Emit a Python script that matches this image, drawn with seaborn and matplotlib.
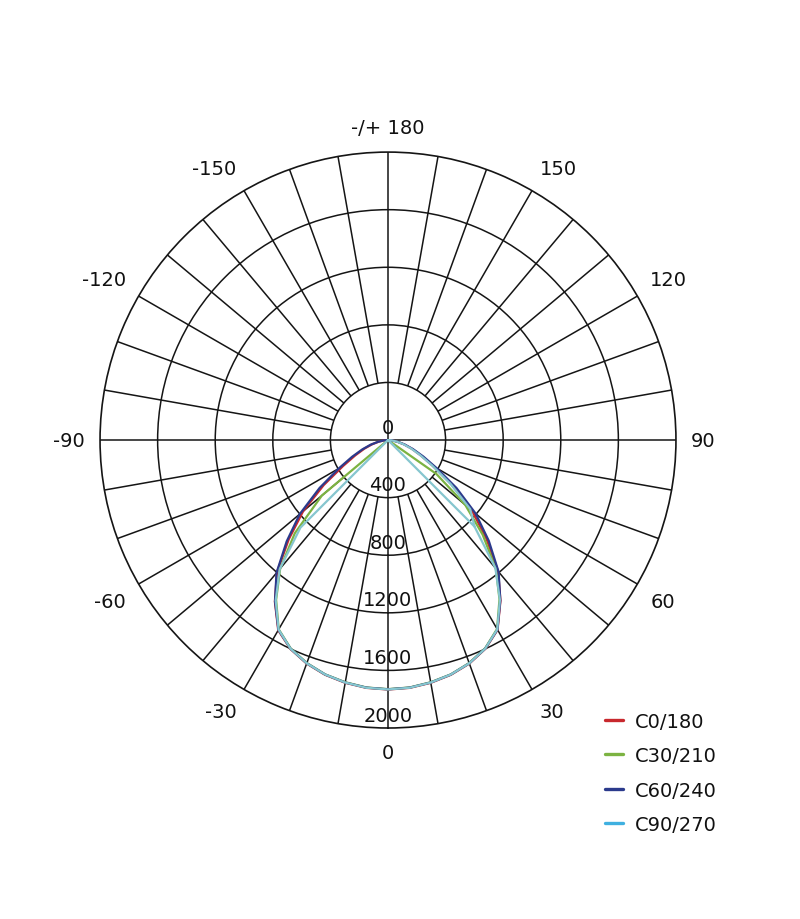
import numpy as np
import pandas as pd
import matplotlib
matplotlib.use("Agg")
import matplotlib.pyplot as plt
import seaborn as sns

# gamma angles (deg) for each C-plane
gamma = list(range(-90, 95, 5))

c0_cd = [0, 28, 65, 115, 175, 250, 360, 545, 770, 975, 1200, 1370, 1525, 1602, 1652, 1688, 1712, 1728,
         1733,
         1728, 1712, 1688, 1652, 1600, 1522, 1362, 1190, 965, 760, 540, 360, 250, 175, 115, 65, 28, 0]
c30_cd = [0, 0, 0, 0, 0, 0, 0, 0, 600, 915, 1165, 1355, 1518, 1598, 1648, 1685, 1708, 1725,
          1730,
          1725, 1708, 1685, 1648, 1596, 1515, 1350, 1165, 930, 700, 410, 0, 0, 0, 0, 0, 0, 0]
c60_cd = [0, 30, 70, 125, 190, 275, 395, 580, 800, 995, 1205, 1368, 1522, 1600, 1650, 1686, 1710, 1726,
          1731,
          1726, 1710, 1686, 1650, 1598, 1520, 1360, 1195, 990, 795, 580, 390, 270, 185, 120, 68, 30, 0]
c90_cd = [0, 0, 0, 0, 0, 0, 0, 0, 0, 860, 1170, 1360, 1520, 1600, 1650, 1686, 1710, 1727,
          1732,
          1727, 1710, 1686, 1650, 1598, 1518, 1355, 1160, 850, 745, 530, 355, 245, 170, 110, 62, 26, 0]
# the C90/270 trace closes back to its 45 deg point
c90_gamma = gamma + [45]
c90_cd = c90_cd + [850]

series = ["C0/180", "C30/210", "C60/240", "C90/270"]
colors = ["#c8282d", "#7cb342", "#2b3a8c", "#3fb0e0"]
line_colors = ["#c8282d", "#7cb342", "#2b3a8c", "#86c6cf"]

ring_values = [0, 400, 800, 1200, 1600, 2000]
angle_ticks = [0, 30, 60, 90, 120, 150, 180, -150, -120, -90, -60, -30]
angle_labels = ["0", "30", "60", "90", "120", "150", "-/+ 180", "-150", "-120", "-90", "-60", "-30"]

frames = []
for name, g, v in zip(series, [gamma, gamma, gamma, c90_gamma], [c0_cd, c30_cd, c60_cd, c90_cd]):
    assert len(g) == len(v)
    frames.append(pd.DataFrame({"theta": np.radians(g), "cd": v, "series": name}))
df = pd.concat(frames, ignore_index=True)

sns.set_style("white")
plt.rcParams['font.family'] = ['DejaVu Sans']
txt_col = "#111111"

fig = plt.figure(figsize=(8, 9.2), dpi=100)
ax = fig.add_axes([0.125, 0.2076, 0.72, 0.626], projection="polar")
ax.set_theta_zero_location("S")
ax.set_theta_direction(1)
ax.set_ylim(0, 2000)

grid_col = "#151515"
# rings
ax.set_yticks([400, 800, 1200, 1600])
ax.set_yticklabels([])
ax.yaxis.grid(True, color=grid_col, lw=1.1)
ax.xaxis.grid(False)
ax.set_xticks([])
ax.spines["polar"].set_color(grid_col)
ax.spines["polar"].set_linewidth(1.2)

# spokes every 10 deg, only the main axes cross the centre
spokes = [a for a in range(0, 360, 10) if a % 90 != 0]
ax.vlines(np.radians(spokes), 400, 2000, color=grid_col, lw=1.1, zorder=1)
ax.vlines(np.radians([0, 90, 180, 270]), 0, 2000, color=grid_col, lw=1.1, zorder=1)

sns.lineplot(data=df, x="theta", y="cd", hue="series", hue_order=series,
             palette=dict(zip(series, line_colors)), sort=False, estimator=None,
             lw=1.6, ax=ax, legend=False, zorder=3)
ax.set_xlabel("")
ax.set_ylabel("")

# radial labels
for r in ring_values:
    if r == 0:
        ax.text(np.pi, 90, "0", ha="center", va="center", fontsize=14, color=txt_col, zorder=4)
    else:
        ax.text(0, r - 90, str(r), ha="center", va="center", fontsize=14, color=txt_col, zorder=4)

# angle labels
R = 2000 * (1 + 15 / 288)
for a, lab in zip(angle_ticks, angle_labels):
    t = np.radians(a)
    s, up = np.sin(t), -np.cos(t)
    ha = "left" if s > 0.3 else ("right" if s < -0.3 else "center")
    va = "bottom" if up > 0.3 else ("top" if up < -0.3 else "center")
    ax.text(t, R, lab, ha=ha, va=va, fontsize=14, color=txt_col, clip_on=False)

handles = [plt.Line2D([], [], color=c, lw=2.4) for c in colors]
fig.legend(handles, series, loc="upper left", bbox_to_anchor=(0.734, 0.2445),
           frameon=False, fontsize=14, handlelength=0.95, handletextpad=0.62,
           labelspacing=0.8, labelcolor=txt_col)

fig.savefig("out.png", dpi=100)
